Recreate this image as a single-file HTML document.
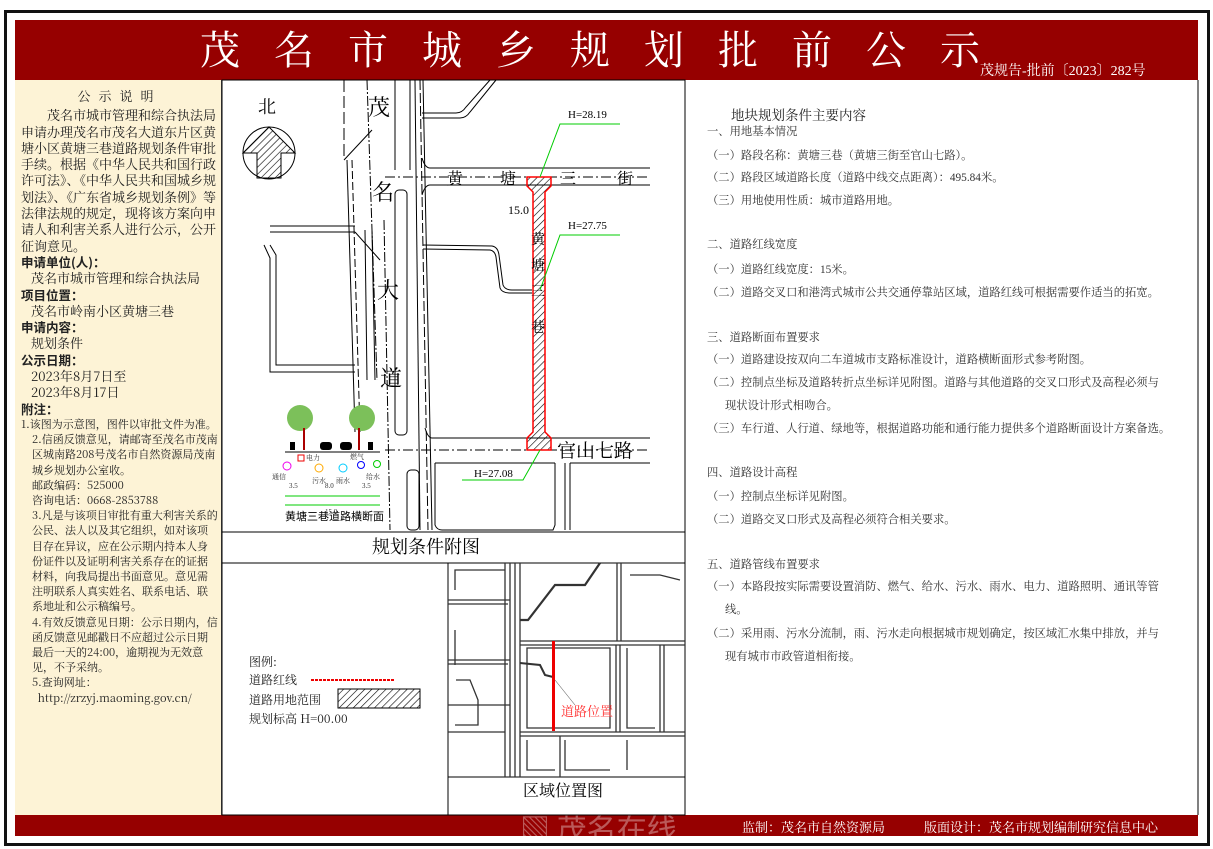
<!DOCTYPE html>
<html><head><meta charset="utf-8"><style>
*{margin:0;padding:0;box-sizing:border-box}
body{width:1213px;height:849px;background:#fff;position:relative;overflow:hidden;font-family:"Liberation Serif","Noto Serif CJK SC",serif}
.a{position:absolute;white-space:nowrap}
#left{position:absolute;left:15px;top:80px;width:207px;height:735px;background:#fdf3d6;border-right:1px solid #555;font-size:13px;line-height:16.3px;color:#222;padding:8px 3px 0 6px;font-family:"Noto Serif CJK SC",serif}
#left b{font-family:"Noto Sans CJK SC",sans-serif;font-weight:bold;font-size:12.5px;display:block}
#right{position:absolute;left:707px;top:0;font-size:11.3px;color:#333}
#right div{position:absolute;white-space:nowrap;left:0}
</style></head><body>
<div class="a" style="left:4px;top:10px;width:1206px;height:836px;border:3px solid #111"></div>
<div class="a" style="left:15px;top:20px;width:1183px;height:60px;background:#960000"></div>
<div class="a" style="left:200px;top:22px;font-size:40px;color:#fff;letter-spacing:34px;font-family:'Noto Serif CJK SC',serif;line-height:52px">茂名市城乡规划批前公示</div>
<div class="a" style="left:980px;top:60px;font-size:14px;color:#fff">茂规告-批前〔2023〕282号</div>
<div class="a" style="left:15px;top:815px;width:1183px;height:21px;background:#960000"></div>
<div class="a" style="left:742px;top:817px;font-size:13px;color:#fff">监制：茂名市自然资源局　　　版面设计：茂名市规划编制研究信息中心</div>
<div class="a" style="left:520px;top:805px;font-size:30px;color:rgba(255,255,255,0.35);font-family:'Noto Sans CJK SC',sans-serif">▧ 茂名在线</div>

<div id="left">
<div style="text-align:center;letter-spacing:8px;font-size:13px;margin-bottom:3px">公示说明</div>
<div style="text-indent:2em">茂名市城市管理和综合执法局申请办理茂名市茂名大道东片区黄塘小区黄塘三巷道路规划条件审批手续。根据《中华人民共和国行政许可法》、《中华人民共和国城乡规划法》、《广东省城乡规划条例》等法律法规的规定，现将该方案向申请人和利害关系人进行公示，公开征询意见。</div>
<b>申请单位(人)：</b><div style="padding-left:10px">茂名市城市管理和综合执法局</div>
<b>项目位置：</b><div style="padding-left:10px">茂名市岭南小区黄塘三巷</div>
<b>申请内容：</b><div style="padding-left:10px">规划条件</div>
<b>公示日期：</b><div style="padding-left:10px">2023年8月7日至<br>2023年8月17日</div>
<b>附注：</b>
<div style="font-size:11px;line-height:15.2px;padding-left:11px;text-indent:-11px">1.该图为示意图，图件以审批文件为准。<br>2.信函反馈意见，请邮寄至茂名市茂南区城南路208号茂名市自然资源局茂南城乡规划办公室收。<br>邮政编码：525000<br>咨询电话：0668-2853788<br>3.凡是与该项目审批有重大利害关系的公民、法人以及其它组织，如对该项目存在异议，应在公示期内持本人身份证件以及证明利害关系存在的证据材料，向我局提出书面意见。意见需注明联系人真实姓名、联系电话、联系地址和公示稿编号。<br>4.有效反馈意见日期：公示日期内，信函反馈意见邮戳日不应超过公示日期最后一天的24:00，逾期视为无效意见，不予采纳。<br>5.查询网址：<br>&nbsp;&nbsp;http://zrzyj.maoming.gov.cn/</div>
</div>

<svg class="a" style="left:0;top:0" width="1213" height="849" font-family="Liberation Serif,Noto Serif CJK SC,serif">
<defs><pattern id="h" width="5" height="5" patternUnits="userSpaceOnUse" patternTransform="rotate(45)"><line x1="0" y1="0" x2="0" y2="5" stroke="#000" stroke-width="1.2"/></pattern></defs>
<g fill="none" stroke="#000" stroke-width="1">
<rect x="222" y="80" width="463" height="735"/>
<line x1="222" y1="532" x2="685" y2="532"/>
<line x1="222" y1="563" x2="685" y2="563"/>
<line x1="448" y1="563" x2="448" y2="815"/>
<line x1="448" y1="777" x2="685" y2="777"/>
<line x1="685" y1="80" x2="685" y2="815"/>
<line x1="1198" y1="80" x2="1198" y2="815"/>
<circle cx="269" cy="153" r="26" />
<polygon points="269,127 295,153 281,153 281,178 257,178 257,153 243,153" fill="url(#h)"/>
<line x1="344" y1="80" x2="344" y2="160" stroke-dasharray="12,4"/>
<line x1="344" y1="160" x2="372" y2="130"/>
<line x1="347" y1="160" x2="355" y2="432"/>
<line x1="352" y1="160" x2="360" y2="432" stroke-dasharray="8,3"/>
<line x1="367" y1="80" x2="377" y2="380" stroke-dasharray="10,2,2,2"/>
<line x1="384" y1="220" x2="390" y2="530" stroke-dasharray="10,2,2,2"/>
<line x1="365" y1="230" x2="367" y2="380"/>
<line x1="372" y1="230" x2="375" y2="380"/>
<line x1="395" y1="80" x2="395" y2="170"/>
<line x1="410" y1="80" x2="410" y2="170"/>
<rect x="395" y="190" width="12" height="245" rx="4"/>
<rect x="407" y="470" width="12" height="60" rx="4"/>
<line x1="415" y1="80" x2="420" y2="530"/>
<line x1="420" y1="80" x2="428" y2="530" stroke-dasharray="10,3"/>
<line x1="423" y1="80" x2="432" y2="530"/>
<path d="M422,113 L456,113 Q462,113 466,107 L490,80"/>
<path d="M422,118 L460,118 Q466,118 470,112 L496,80"/>
<path d="M430,168 L650,168 M430,185 L650,185 M422,158 Q425,168 430,168 M422,195 Q425,185 430,185"/>
<line x1="385" y1="177" x2="650" y2="177" stroke-dasharray="10,3,2,3"/>
<path d="M432,438 L650,438 M435,463 L555,463 M570,463 L650,463 M425,428 Q428,438 432,438"/>
<line x1="385" y1="450" x2="650" y2="450" stroke-dasharray="10,3,2,3"/>
<path d="M435,463 L435,525 Q437,530 442,530 L553,530 L555,525 L555,463 M570,463 L570,530 M565,463 L565,530" />
<path d="M423,245 L492,246 Q498,247 499,255 L503,285 Q505,290 512,290 L532,290"/>
<path d="M423,249 L490,250 Q495,251 496,257 L500,288 Q502,293 510,293 L532,293"/>
<path d="M270,245 L276,255 L276,365 L355,365 M264,245 L270,258 L270,372 L355,372"/>
<path d="M270,226 L355,226 M270,232 L355,232 M355,232 L380,260"/>
<line x1="285" y1="452" x2="380" y2="452"/>
</g>
<path d="M527,177 L551,177 L551,186 L545,192 L545,432 L551,438 L551,450 L527,450 L527,438 L533,432 L533,192 L527,186 Z" fill="url(#h)" stroke="#f00" stroke-width="1.5"/>
<g stroke="#0c0" fill="none" stroke-width="1">
<path d="M620,124 L560,124 L540,177"/><path d="M620,235 L560,235 L540,290"/><path d="M462,480 L523,480 L540,450"/>
<line x1="285" y1="496" x2="380" y2="496"/><line x1="285" y1="505" x2="380" y2="505"/>
</g>
<g font-size="11" fill="#000">
<text x="568" y="118" font-size="11">H=28.19</text>
<text x="568" y="229" font-size="11">H=27.75</text>
<text x="474" y="477" font-size="11">H=27.08</text>
<text x="508" y="214" font-size="12">15.0</text>
</g>
<g font-family="Noto Serif CJK SC,serif" fill="#000">
<text x="258" y="113" font-size="18">北</text>
<text x="368" y="115" font-size="22">茂</text>
<text x="372" y="200" font-size="22">名</text>
<text x="377" y="298" font-size="22">大</text>
<text x="380" y="386" font-size="22">道</text>
<text x="447" y="184" font-size="16">黄</text><text x="500" y="184" font-size="16">塘</text><text x="560" y="184" font-size="16">三</text><text x="617" y="184" font-size="16">街</text>
<text x="531" y="244" font-size="14">黄</text><text x="531" y="270" font-size="14">塘</text><text x="531" y="296" font-size="14">三</text><text x="531" y="332" font-size="14">巷</text>
<text x="557" y="457" font-size="19">官山七路</text>
<text x="372" y="553" font-size="18">规划条件附图</text>
<text x="523" y="796" font-size="16">区域位置图</text>
<text x="285" y="520" font-size="11" font-family="Noto Sans CJK SC,sans-serif">黄塘三巷道路横断面</text>
</g>
<g><circle cx="300" cy="418" r="13" fill="#7cc05a"/><circle cx="362" cy="418" r="13" fill="#7cc05a"/>
<rect x="303" y="428" width="2" height="22" fill="#a00"/><rect x="358" y="428" width="2" height="22" fill="#a00"/>
<rect x="320" y="442" width="12" height="8" rx="3" fill="#000"/><rect x="340" y="442" width="12" height="8" rx="3" fill="#000"/>
<rect x="290" y="442" width="5" height="8" fill="#000"/><rect x="368" y="442" width="5" height="8" fill="#000"/>
<circle cx="287" cy="466" r="4" fill="none" stroke="#e0e"/><rect x="298" y="455" width="6" height="6" fill="none" stroke="#e00"/>
<circle cx="319" cy="468" r="4" fill="none" stroke="#fa0"/><circle cx="343" cy="468" r="4" fill="none" stroke="#0cf"/>
<circle cx="361" cy="465" r="3.5" fill="none" stroke="#00f"/><circle cx="377" cy="464" r="3.5" fill="none" stroke="#0c0"/></g>
<g font-size="7" fill="#333"><text x="272" y="479">通信</text><text x="306" y="460">电力</text><text x="312" y="483">污水</text><text x="336" y="483">雨水</text><text x="350" y="459">燃气</text><text x="366" y="479">给水</text>
<text x="289" y="488">3.5</text><text x="325" y="488">8.0</text><text x="362" y="488">3.5</text><text x="325" y="514">15.0</text></g>
<g font-family="Noto Serif CJK SC,serif" font-size="12" fill="#222">
<text x="249" y="666">图例:</text><text x="249" y="684">道路红线</text><text x="249" y="704">道路用地范围</text><text x="249" y="723">规划标高  H=00.00</text></g>
<line x1="311" y1="680" x2="394" y2="680" stroke="#e00" stroke-width="2" stroke-dasharray="3,1"/>
<rect x="338" y="689" width="82" height="19" fill="url(#h)" stroke="#000"/>
<g fill="none" stroke="#333" stroke-width="1.3">
<path d="M448,600 L510,600 M448,660 L510,660 M448,705 L510,705 M520,641 L685,641 M520,732 L685,732 M448,732 L505,732"/>
<path d="M448,604 L508,604 M448,664 L508,664 M520,645 L685,645 M520,736 L685,736"/>
<path d="M505,563 L505,777 M510,563 L510,777 M515,563 L515,777 M520,563 L520,777"/>
<path d="M616,645 L616,732 M620,645 L620,732 M660,645 L660,732 M664,645 L664,732 M560,736 L560,777 M617,563 L617,641 M621,563 L621,641"/>
<path d="M520,620 L528,620 L555,585 L585,585 L600,563" stroke-width="2.2"/>
<path d="M520,663 L540,665 L545,675 L553,677" stroke-width="2"/>
<path d="M455,590 L455,570 L505,570 M455,630 L455,665 M456,680 L470,680 L478,700 L478,725 L455,725 M527,648 L527,728 L610,728 L610,648 Z M627,648 L627,728 L655,728 M527,740 L527,770 L555,770 M565,740 L565,770 L610,770 M627,740 L627,770 M630,575 L660,575 L680,580"/>
</g>
<rect x="552" y="641" width="3" height="90" fill="#e00"/>
<line x1="555" y1="680" x2="575" y2="705" stroke="#666" stroke-width="0.6"/>
<text x="561" y="716" font-size="13" fill="#f33" font-family="Noto Serif CJK SC,serif">道路位置</text>
</svg>

<div id="right">
<div style="top:104px;left:24px;font-size:13.5px;color:#222">地块规划条件主要内容</div>
<div style="top:123px">一、用地基本情况</div>
<div style="top:147px">（一）路段名称：黄塘三巷（黄塘三街至官山七路）。</div>
<div style="top:169px">（二）路段区域道路长度（道路中线交点距离）：495.84米。</div>
<div style="top:192px">（三）用地使用性质：城市道路用地。</div>
<div style="top:236px">二、道路红线宽度</div>
<div style="top:261px">（一）道路红线宽度：15米。</div>
<div style="top:284px">（二）道路交叉口和港湾式城市公共交通停靠站区域，道路红线可根据需要作适当的拓宽。</div>
<div style="top:329px">三、道路断面布置要求</div>
<div style="top:351px">（一）道路建设按双向二车道城市支路标准设计，道路横断面形式参考附图。</div>
<div style="top:374px">（二）控制点坐标及道路转折点坐标详见附图。道路与其他道路的交叉口形式及高程必须与</div>
<div style="top:397px;left:18px">现状设计形式相吻合。</div>
<div style="top:420px">（三）车行道、人行道、绿地等，根据道路功能和通行能力提供多个道路断面设计方案备选。</div>
<div style="top:464px">四、道路设计高程</div>
<div style="top:488px">（一）控制点坐标详见附图。</div>
<div style="top:511px">（二）道路交叉口形式及高程必须符合相关要求。</div>
<div style="top:556px">五、道路管线布置要求</div>
<div style="top:578px">（一）本路段按实际需要设置消防、燃气、给水、污水、雨水、电力、道路照明、通讯等管</div>
<div style="top:601px;left:18px">线。</div>
<div style="top:625px">（二）采用雨、污水分流制，雨、污水走向根据城市规划确定，按区域汇水集中排放，并与</div>
<div style="top:648px;left:18px">现有城市市政管道相衔接。</div>
</div>
</body></html>
